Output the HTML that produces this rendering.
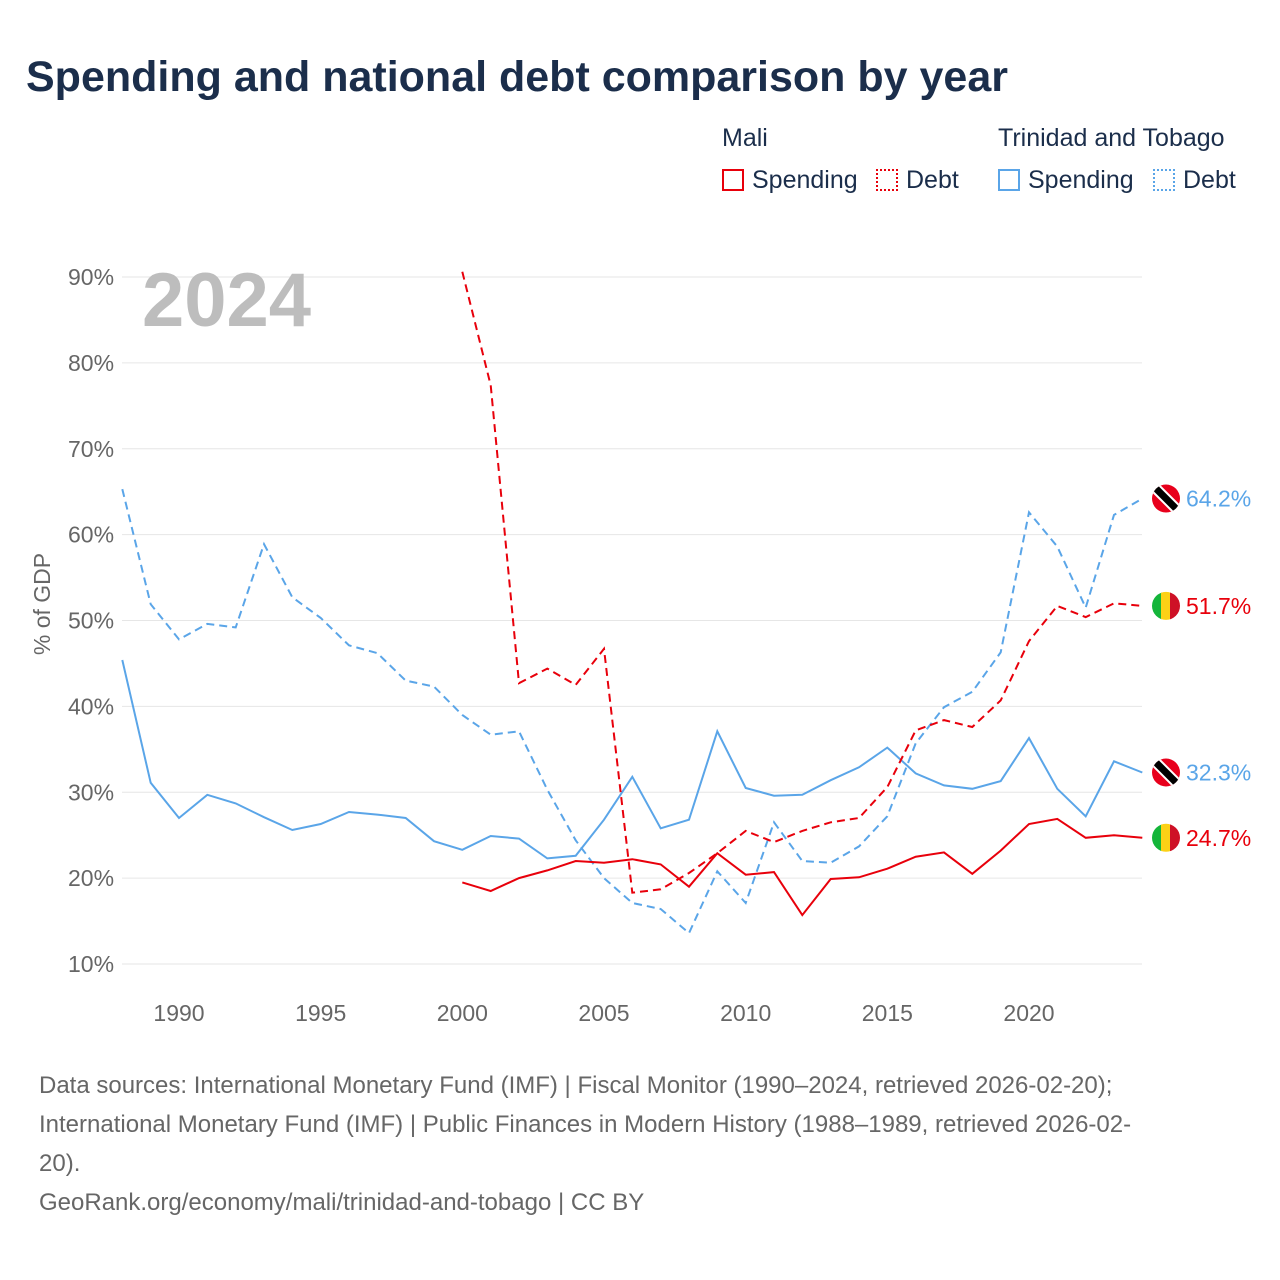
<!DOCTYPE html>
<html><head><meta charset="utf-8"><style>
body{margin:0;background:#fff;font-family:"Liberation Sans",sans-serif;}
#wrap{position:relative;width:1280px;height:1280px;overflow:hidden;}
.t{position:absolute;white-space:nowrap;}
</style></head><body><div id="wrap">
<div class="t" style="left:26px;top:53px;font-size:43px;font-weight:bold;color:#1b2e4b;">Spending and national debt comparison by year</div>
<div class="t" style="left:722px;top:124px;font-size:25px;color:#1b2e4b;">Mali</div>
<div class="t" style="left:998px;top:124px;font-size:25px;color:#1b2e4b;">Trinidad and Tobago</div>
<div class="t" style="left:722px;top:166px;font-size:25px;color:#1b2e4b;"><span style="display:inline-block;width:22px;height:22px;border:2px solid #e8000b;box-sizing:border-box;vertical-align:-3px;margin-right:8px"></span>Spending</div>
<div class="t" style="left:876px;top:166px;font-size:25px;color:#1b2e4b;"><span style="display:inline-block;width:22px;height:22px;border:2px dotted #e8000b;box-sizing:border-box;vertical-align:-3px;margin-right:8px"></span>Debt</div>
<div class="t" style="left:998px;top:166px;font-size:25px;color:#1b2e4b;"><span style="display:inline-block;width:22px;height:22px;border:2px solid #5aa5e8;box-sizing:border-box;vertical-align:-3px;margin-right:8px"></span>Spending</div>
<div class="t" style="left:1153px;top:166px;font-size:25px;color:#1b2e4b;"><span style="display:inline-block;width:22px;height:22px;border:2px dotted #5aa5e8;box-sizing:border-box;vertical-align:-3px;margin-right:8px"></span>Debt</div>
<svg id="chart" width="1280" height="1280" style="position:absolute;left:0;top:0" font-family="Liberation Sans, sans-serif"></svg>
<div class="t" style="left:39px;top:1066px;font-size:24px;line-height:39px;color:#666;">Data sources: International Monetary Fund (IMF) | Fiscal Monitor (1990–2024, retrieved 2026-02-20);<br>International Monetary Fund (IMF) | Public Finances in Modern History (1988–1989, retrieved 2026-02-<br>20).<br>GeoRank.org/economy/mali/trinidad-and-tobago | CC BY</div>
</div>
<script>
const ttYears=[1988,1989,1990,1991,1992,1993,1994,1995,1996,1997,1998,1999,2000,2001,2002,2003,2004,2005,2006,2007,2008,2009,2010,2011,2012,2013,2014,2015,2016,2017,2018,2019,2020,2021,2022,2023,2024];
const ttSpending=[45.4,31.1,27.0,29.7,28.7,27.1,25.6,26.3,27.7,27.4,27.0,24.3,23.3,24.9,24.6,22.3,22.6,26.8,31.8,25.8,26.8,37.1,30.5,29.6,29.7,31.4,32.9,35.2,32.2,30.8,30.4,31.3,36.3,30.4,27.2,33.6,32.3];
const ttDebt=[65.3,51.9,47.8,49.6,49.2,58.9,52.7,50.3,47.1,46.2,43.0,42.3,39.0,36.7,37.1,30.3,24.4,20.0,17.1,16.4,13.6,20.8,17.1,26.5,22.0,21.8,23.7,27.2,35.7,39.9,41.7,46.3,62.6,58.6,51.5,62.3,64.2];
const maliYears=[2000,2001,2002,2003,2004,2005,2006,2007,2008,2009,2010,2011,2012,2013,2014,2015,2016,2017,2018,2019,2020,2021,2022,2023,2024];
const maliSpending=[19.5,18.5,20.0,20.9,22.0,21.8,22.2,21.6,19.0,22.9,20.4,20.7,15.7,19.9,20.1,21.1,22.5,23.0,20.5,23.2,26.3,26.9,24.7,25.0,24.7];
const maliDebt=[90.6,77.4,42.7,44.4,42.5,46.7,18.3,18.7,20.6,22.9,25.5,24.2,25.5,26.5,27.0,30.6,37.2,38.4,37.6,40.7,47.6,51.7,50.4,52.0,51.7];
const yTicks=[10,20,30,40,50,60,70,80,90];
const xTicks=[1990,1995,2000,2005,2010,2015,2020];

const NS="http://www.w3.org/2000/svg";
const svg=document.getElementById('chart');
const x=yr=>179+(yr-1990)*(850/30);
const y=v=>964-(v-10)*8.5875;
function mk(tag,attrs,parent){const e=document.createElementNS(NS,tag);for(const k in attrs)e.setAttribute(k,attrs[k]);(parent||svg).appendChild(e);return e;}
yTicks.forEach(v=>{
  const l=mk('line',{x1:122,x2:1142,y1:y(v),y2:y(v),stroke:'#e6e6e6','stroke-width':1});
  
  
  const t=mk('text',{x:68,y:y(v)+8,'font-size':23,fill:'#666'});t.textContent=v+'%';
  
  
});
xTicks.forEach(v=>{
  const t=mk('text',{x:x(v),y:1021,'font-size':23,fill:'#666','text-anchor':'middle'});t.textContent=v;
  
  
});
const yt=mk('text',{x:0,y:0,'font-size':23,fill:'#666','text-anchor':'middle',transform:'translate(50,604) rotate(-90)'});yt.textContent='% of GDP';


const yr=mk('text',{x:142,y:326,'font-size':76,'font-weight':'bold',fill:'#bdbdbd'});yr.textContent='2024';


function line(xs,vs,color,dash,name){
  const d=xs.map((yy,i)=>(i?'L':'M')+x(yy).toFixed(1)+' '+y(vs[i]).toFixed(1)).join(' ');
  const p=mk('path',{d:d,fill:'none',stroke:color,'stroke-width':2,'stroke-dasharray':dash||'none'});
  
  
}
line(ttYears,ttDebt,'#5aa5e8','8 5','line-tt-debt');
line(ttYears,ttSpending,'#5aa5e8','','line-tt-spending');
line(maliYears,maliDebt,'#e8000b','8 5','line-mali-debt');
line(maliYears,maliSpending,'#e8000b','','line-mali-spending');
function flagTT(cy,name){
  const g=mk('g',{});
  
  
  const cp=mk('clipPath',{id:name+'c'},g);mk('circle',{cx:1166,cy:cy,r:14},cp);
  const gg=mk('g',{'clip-path':'url(#'+name+'c)'},g);
  mk('rect',{x:1150,y:cy-16,width:32,height:32,fill:'#e8001c'},gg);
  mk('line',{x1:1150,y1:cy-16,x2:1182,y2:cy+16,stroke:'#fff','stroke-width':11},gg);
  mk('line',{x1:1150,y1:cy-16,x2:1182,y2:cy+16,stroke:'#000','stroke-width':7},gg);
}
function flagMali(cy,name){
  const g=mk('g',{});
  
  
  const cp=mk('clipPath',{id:name+'c'},g);mk('circle',{cx:1166,cy:cy,r:14},cp);
  const gg=mk('g',{'clip-path':'url(#'+name+'c)'},g);
  mk('rect',{x:1152,y:cy-15,width:10,height:30,fill:'#14b53a'},gg);
  mk('rect',{x:1161,y:cy-15,width:10,height:30,fill:'#fcd116'},gg);
  mk('rect',{x:1170,y:cy-15,width:12,height:30,fill:'#ce1126'},gg);
}
function endLabel(v,color,name){
  const t=mk('text',{x:1186,y:y(v)+8,'font-size':23,fill:color});t.textContent=v.toFixed(1)+'%';
  
  
}
const lt=ttDebt[ttDebt.length-1],ls=ttSpending[ttSpending.length-1],md=maliDebt[maliDebt.length-1],ms=maliSpending[maliSpending.length-1];
flagTT(y(lt),'flag-tt-debt');endLabel(lt,'#5aa5e8','end-label-tt-debt');
flagMali(y(md),'flag-mali-debt');endLabel(md,'#e8000b','end-label-mali-debt');
flagTT(y(ls),'flag-tt-spending');endLabel(ls,'#5aa5e8','end-label-tt-spending');
flagMali(y(ms),'flag-mali-spending');endLabel(ms,'#e8000b','end-label-mali-spending');
</script></body></html>
